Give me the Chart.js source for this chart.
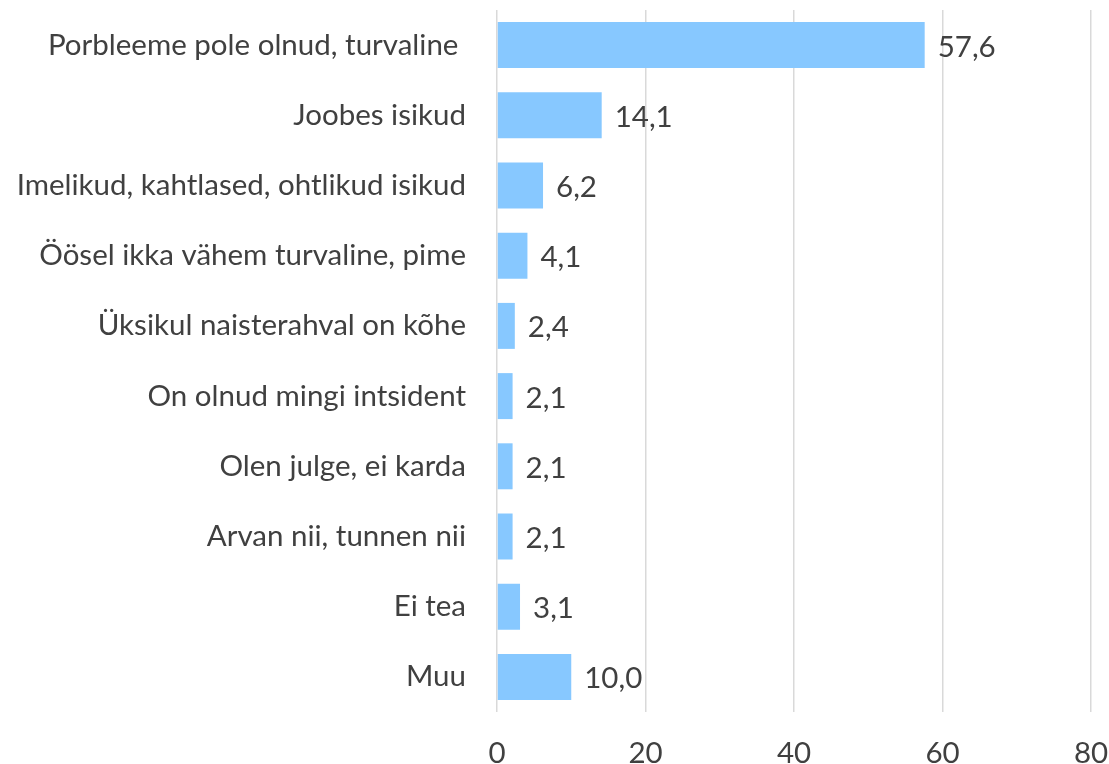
<!DOCTYPE html>
<html>
<head>
<meta charset="utf-8">
<script src="https://cdn.jsdelivr.net/npm/chart.js@4"></script>
<style>
  html, body { margin: 0; padding: 0; background: #fff; }
  #wrap { width: 1109px; height: 764px; }
</style>
</head>
<body>
<div id="wrap"><canvas id="mainChart" width="1109" height="764"></canvas></div>
<script>
// andmed
const categories = [
  "Porbleeme pole olnud, turvaline ",
  "Joobes isikud",
  "Imelikud, kahtlased, ohtlikud isikud",
  "Öösel ikka vähem turvaline, pime",
  "Üksikul naisterahval on kõhe",
  "On olnud mingi intsident",
  "Olen julge, ei karda",
  "Arvan nii, tunnen nii",
  "Ei tea",
  "Muu"
];
const values = [57.6, 14.1, 6.2, 4.1, 2.4, 2.1, 2.1, 2.1, 3.1, 10.0];
const xTicks = [0, 20, 40, 60, 80];

const FONT = "Lato, 'Open Sans', sans-serif";
const FSIZE = 29.5;
const TEXT = "#404040";

// väärtuste sildid tulpade lõppu
const valueLabels = {
  id: "valueLabels",
  afterDatasetsDraw(chart) {
    const ctx = chart.ctx;
    const meta = chart.getDatasetMeta(0);
    ctx.save();
    ctx.font = FSIZE + "px " + FONT;
    ctx.fillStyle = TEXT;
    ctx.textAlign = "left";
    ctx.textBaseline = "middle";
    meta.data.forEach((bar, i) => {
      const txt = values[i].toFixed(1).replace(".", ",");
      ctx.fillText(txt, bar.x + 13, bar.y + 2);
    });
    ctx.restore();
  }
};

const chartInstance = new Chart(document.getElementById("mainChart"), {
  type: "bar",
  data: {
    labels: categories,
    datasets: [{
      data: values,
      backgroundColor: "#87C8FF",
      borderWidth: 0,
      barPercentage: 0.655,
      categoryPercentage: 1
    }]
  },
  plugins: [valueLabels],
  options: {
    indexAxis: "y",
    responsive: false,
    animation: false,
    layout: { padding: { top: 10, right: 18, left: 0, bottom: 0 } },
    plugins: { legend: { display: false }, tooltip: { enabled: false } },
    scales: {
      x: {
        min: 0,
        max: 80,
        afterBuildTicks: (scale) => { scale.ticks = xTicks.map((v) => ({ value: v })); },
        afterFit: (scale) => {
          scale.height = 52;
          scale.paddingLeft = 0;
          scale.paddingRight = 0;
        },
        border: { display: false },
        grid: { color: "#d9d9d9", lineWidth: 1.5, drawTicks: false },
        ticks: { color: TEXT, font: { family: FONT, size: FSIZE }, padding: 24 }
      },
      y: {
        afterFit: (scale) => {
          scale.width = 497;
          scale.paddingTop = 0;
          scale.paddingBottom = 0;
        },
        border: { display: false },
        grid: { display: false, drawTicks: false },
        ticks: { color: TEXT, font: { family: FONT, size: FSIZE }, padding: 31 }
      }
    }
  }
});
</script>
</body>
</html>
